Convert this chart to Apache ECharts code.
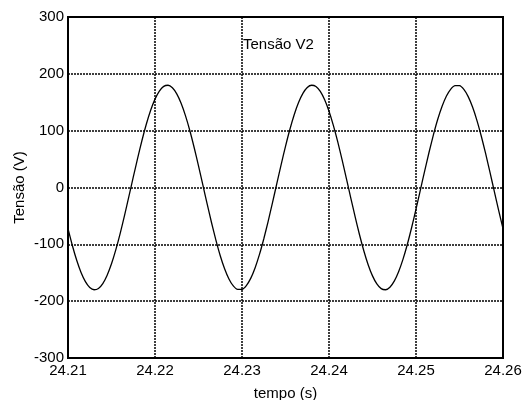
<!DOCTYPE html>
<html>
<head>
<meta charset="utf-8">
<script src="https://cdn.jsdelivr.net/npm/echarts@6/dist/echarts.min.js"></script>
<style>html,body{margin:0;padding:0;background:#fff}#c{width:522px;height:400px}</style>
</head>
<body>
<div id="c"></div>
<script>
var chartTitle = 'Tensão V2';
var xName = 'tempo (s)';
var yName = 'Tensão (V)';
var yTicks = [-300, -200, -100, 0, 100, 200, 300];
var time = [
  24.2100,24.2105,24.2110,24.2115,24.2120,24.2125,24.2130,24.2135,24.2140,24.2145,
  24.2150,24.2155,24.2160,24.2165,24.2170,24.2175,24.2180,24.2185,24.2190,24.2195,
  24.2200,24.2205,24.2210,24.2215,24.2220,24.2225,24.2230,24.2235,24.2240,24.2245,
  24.2250,24.2255,24.2260,24.2265,24.2270,24.2275,24.2280,24.2285,24.2290,24.2295,
  24.2300,24.2305,24.2310,24.2315,24.2320,24.2325,24.2330,24.2335,24.2340,24.2345,
  24.2350,24.2355,24.2360,24.2365,24.2370,24.2375,24.2380,24.2385,24.2390,24.2395,
  24.2400,24.2405,24.2410,24.2415,24.2420,24.2425,24.2430,24.2435,24.2440,24.2445,
  24.2450,24.2455,24.2460,24.2465,24.2470,24.2475,24.2480,24.2485,24.2490,24.2495,
  24.2500,24.2505,24.2510,24.2515,24.2520,24.2525,24.2530,24.2535,24.2540,24.2545,
  24.2550,24.2555,24.2560,24.2565,24.2570,24.2575,24.2580,24.2585,24.2590,24.2595,
  24.2600];
var voltage = [
  -72.5,-102.1,-128.1,-149.5,-165.6,-175.9,-179.9,-177.6,-169.0,-154.3,
  -134.3,-109.4,-80.7,-49.1,-15.8,18.1,51.3,82.7,111.2,135.8,
  155.5,169.7,178.0,179.9,175.4,164.7,148.2,126.5,100.3,70.4,
  38.2,4.5,-29.3,-62.0,-92.6,-120.0,-142.9,-160.9,-173.2,-179.3,
  -179.1,-172.5,-159.9,-141.5,-118.2,-90.6,-59.9,-27.0,6.8,40.4,
  72.5,102.1,128.1,149.5,165.6,175.9,179.9,177.6,169.0,154.3,
  134.3,109.4,80.7,49.1,15.8,-18.1,-51.3,-82.7,-111.2,-135.8,
  -155.5,-169.7,-178.0,-179.9,-175.4,-164.7,-148.2,-126.5,-100.3,-70.4,
  -38.2,-4.5,29.3,62.0,92.6,120.0,142.9,160.9,173.2,179.3,
  179.1,172.5,159.9,141.5,118.2,90.6,59.9,27.0,-6.8,-40.4,
  -72.5];

var pts = time.map(function(t, i){ return [t, voltage[i]]; });
var font = 'Liberation Sans, Arial, sans-serif';
var chart = echarts.init(document.getElementById('c'), null, {renderer:'canvas'});
chart.setOption({
  animation: false,
  backgroundColor: '#fff',
  title: {text: chartTitle, left: 243, top: 37, padding: 0,
    textStyle: {fontFamily: font, fontSize: 15, fontWeight: 'normal', color: '#000'}},
  grid: {left: 68, top: 17, width: 435, height: 341, show: true,
    containLabel: false, outerBoundsMode: 'none',
    borderColor: '#000', borderWidth: 2, backgroundColor: '#fff'},
  xAxis: {type: 'value', min: 24.21, max: 24.26, interval: 0.01,
    name: xName, nameLocation: 'middle', nameGap: 28, nameMoveOverlap: false,
    nameTextStyle: {fontFamily: font, fontSize: 15, color: '#000'},
    axisLine: {show: true, onZero: false, lineStyle: {color: '#000', width: 2}},
    axisTick: {show: false},
    axisLabel: {fontFamily: font, fontSize: 15, color: '#000', margin: 5,
      formatter: function(v){ return v.toFixed(2); }},
    splitLine: {show: true, lineStyle: {color: '#000', width: 1.5, type: [2, 1]}}
  },
  yAxis: {type: 'value', min: yTicks[0], max: yTicks[yTicks.length-1], interval: 100,
    name: yName, nameLocation: 'middle', nameGap: 41, nameMoveOverlap: false,
    nameTextStyle: {fontFamily: font, fontSize: 15, color: '#000'},
    axisLine: {show: true, onZero: false, lineStyle: {color: '#000', width: 2}},
    axisTick: {show: false},
    axisLabel: {fontFamily: font, fontSize: 15, color: '#000', margin: 4},
    splitLine: {show: true, lineStyle: {color: '#000', width: 1.5, type: [2, 1]}}
  },
  series: [{type: 'line', data: pts, showSymbol: false, smooth: 0.2,
    lineStyle: {color: '#000', width: 1.3}}]
});
</script>
</body>
</html>
